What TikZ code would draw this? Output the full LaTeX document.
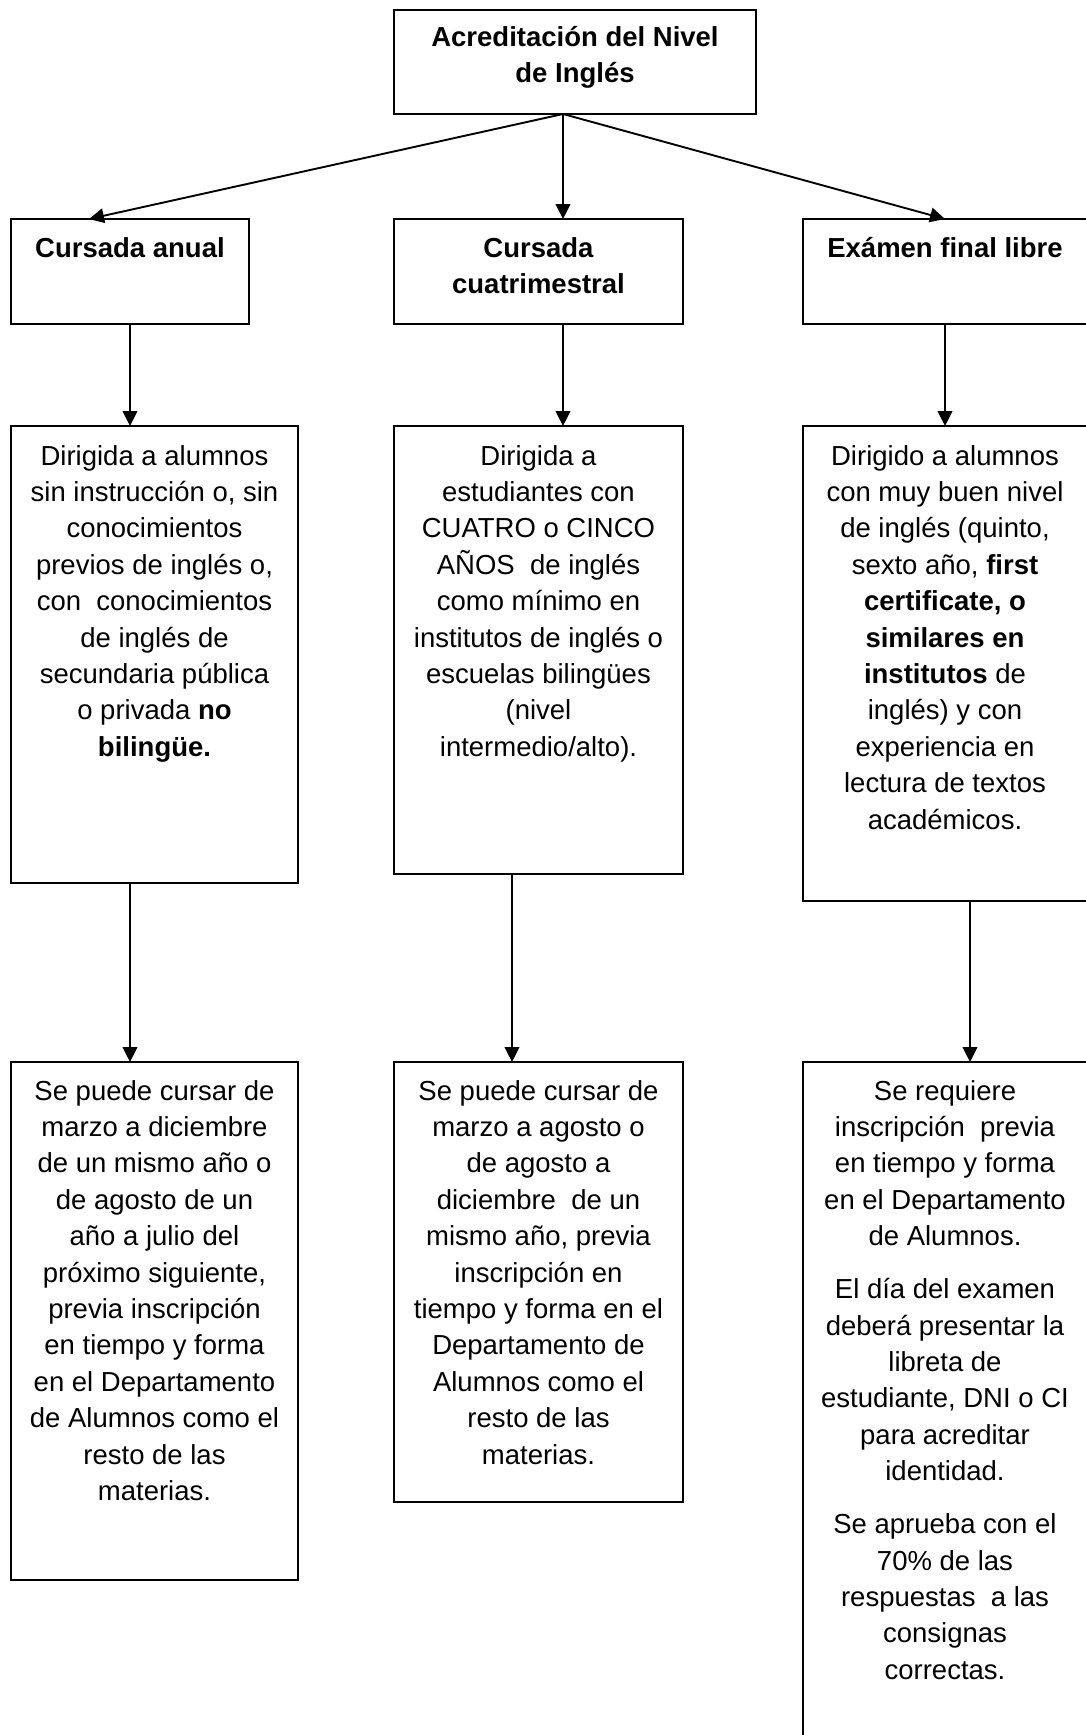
\documentclass[tikz,border=0pt]{standalone}
\usepackage{fontspec}
\setmainfont{Liberation Sans}
\usetikzlibrary{arrows.meta,calc}
\newcommand\boxtext[1]{\parbox[t]{200pt}{\centering #1}}
\tikzset{
  box/.style={draw, line width=0.95pt, inner sep=0pt, outer sep=0pt},
  txt/.style={inner sep=0pt, outer sep=0pt, anchor=base, font=\fontsize{13.75pt}{18.2pt}\selectfont},
  arr/.style={line width=0.95pt, -{Triangle[length=7.5pt,width=7.3pt]}},
}
\begin{document}
\begin{tikzpicture}[x=0.5pt,y=-0.5pt]
\useasboundingbox (0,0) rectangle (1086,1735);
\fill[white] (0,0) rectangle (1086,1735);
\clip (0,0) rectangle (1086,1735);

% boxes
\node[box, minimum width=181pt, minimum height=52pt] (top) at (575,62) {};

\node[box, minimum width=119pt,   minimum height=52.5pt] (A2) at (130,271.5) {};
\node[box, minimum width=144.5pt, minimum height=52.5pt] (B2) at (538.5,271.5) {};
\node[box, minimum width=142pt,   minimum height=52.5pt] (C2) at (945,271.5) {};

\node[box, minimum width=143.5pt, minimum height=228.5pt] (A3) at (154.5,654.5) {};
\node[box, minimum width=144.5pt, minimum height=224pt]   (B3) at (538.5,650) {};
\node[box, minimum width=142pt,   minimum height=237.5pt] (C3) at (945,663.5) {};

\node[box, minimum width=143.5pt, minimum height=259pt]   (A4) at (154.5,1321) {};
\node[box, minimum width=144.5pt, minimum height=220pt]   (B4) at (538.5,1282) {};
\node[box, minimum width=142pt,   minimum height=341.5pt] (C4) at (945,1403.5) {};

% texts
\node[txt] (ttop) at ($(top.north)+(0,36)$) {\boxtext{\bfseries Acreditación del Nivel\\de Inglés}};
\node[txt] (tA2) at ($(A2.north)+(0,38)$) {\boxtext{\bfseries Cursada anual}};
\node[txt] (tB2) at ($(B2.north)+(0,38)$) {\boxtext{\bfseries Cursada\\cuatrimestral}};
\node[txt] (tC2) at ($(C2.north)+(0,38)$) {\boxtext{\bfseries Exámen final libre}};

\node[txt] (tA3) at ($(A3.north)+(0,39)$) {\boxtext{Dirigida a alumnos\\sin instrucción o, sin\\conocimientos\\previos de inglés o,\\con~ conocimientos\\de inglés de\\secundaria pública\\o privada \textbf{no}\\\textbf{bilingüe.}}};
\node[txt] (tB3) at ($(B3.north)+(0,39)$) {\boxtext{Dirigida a\\estudiantes con\\CUATRO o CINCO\\AÑOS~ de inglés\\como mínimo en\\institutos de inglés o\\escuelas bilingües\\(nivel\\intermedio/alto).}};
\node[txt] (tC3) at ($(C3.north)+(0,39)$) {\boxtext{Dirigido a alumnos\\con muy buen nivel\\de inglés (quinto,\\sexto año, \textbf{first}\\\textbf{certificate, o}\\\textbf{similares en}\\\textbf{institutos} de\\inglés) y con\\experiencia en\\lectura de textos\\académicos.}};

\node[txt] (tA4) at ($(A4.north)+(0,38)$) {\boxtext{Se puede cursar de\\marzo a diciembre\\de un mismo año o\\de agosto de un\\año a julio del\\próximo siguiente,\\previa inscripción\\en tiempo y forma\\en el Departamento\\de Alumnos como el\\resto de las\\materias.}};
\node[txt] (tB4) at ($(B4.north)+(0,38)$) {\boxtext{Se puede cursar de\\marzo a agosto o\\de agosto a\\diciembre~ de un\\mismo año, previa\\inscripción en\\tiempo y forma en el\\Departamento de\\Alumnos como el\\resto de las\\materias.}};
\node[txt] (tC4) at ($(C4.north)+(0,38)$) {\boxtext{Se requiere\\inscripción~ previa\\en tiempo y forma\\en el Departamento\\de Alumnos.\\[8.3pt]El día del examen\\deberá presentar la\\libreta de\\estudiante, DNI o CI\\para acreditar\\identidad.\\[8.3pt]Se aprueba con el\\70\% de las\\respuestas~ a las\\consignas\\correctas.}};

% connectors
\coordinate (o) at ($(top.south)+(-12,0)$);
\draw[arr] (o) -- ($(A2.north)+(-41,0)$);
\draw[arr] (o) -- (o |- B2.north);
\draw[arr] (o) -- (C2.north);

\draw[arr] (A2.south) -- (A2.south |- A3.north);
\draw[arr] (o |- B2.south) -- (o |- B3.north);
\draw[arr] (C2.south) -- (C2.south |- C3.north);

\draw[arr] (A2.south |- A3.south) -- (A2.south |- A4.north);
\coordinate (m) at ($(B3.south)+(-26.5,0)$);
\draw[arr] (m) -- (m |- B4.north);
\coordinate (r) at ($(C3.south)+(25,0)$);
\draw[arr] (r) -- (r |- C4.north);
\end{tikzpicture}
\end{document}
